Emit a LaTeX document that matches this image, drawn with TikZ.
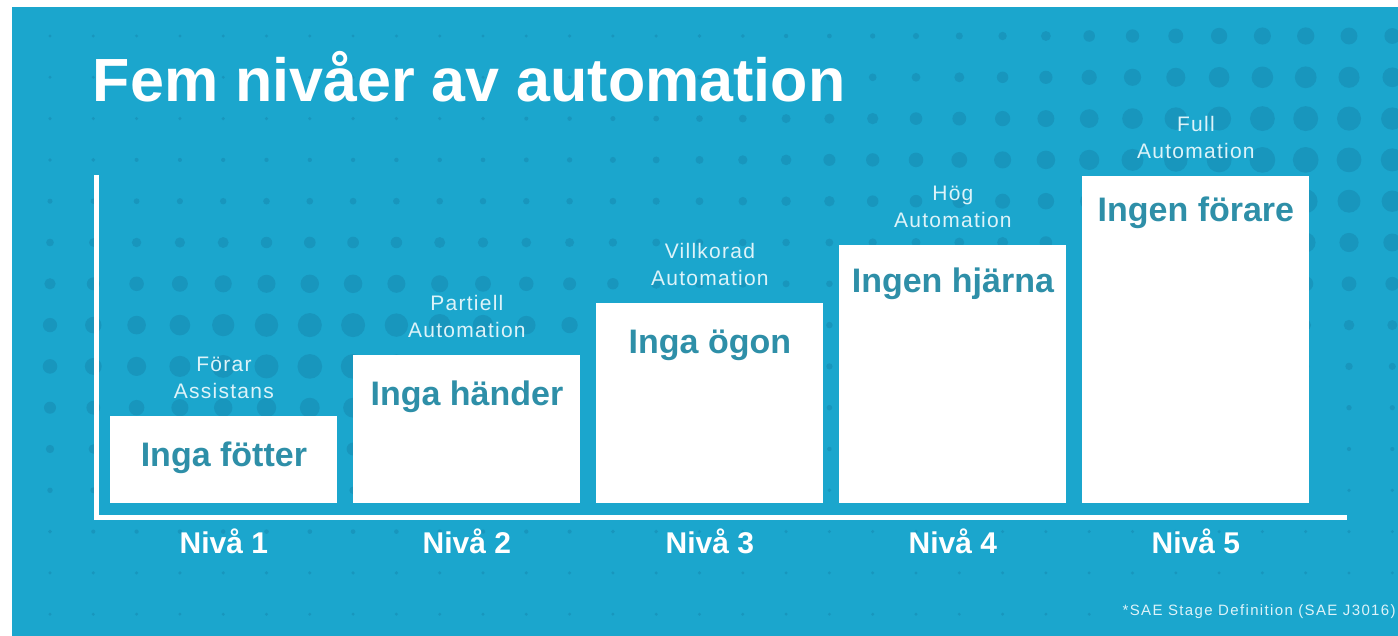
\documentclass[tikz,border=0pt]{standalone}
\usepackage{fontspec}
\setmainfont{Liberation Sans}
\usetikzlibrary{positioning,calc}
\definecolor{bgblue}{HTML}{1BA6CD}
\definecolor{dotblue}{HTML}{1896BD}
\definecolor{barteal}{HTML}{2E8FA8}
\definecolor{softwhite}{HTML}{DDF3F9}
\tikzset{%
  every bar/.style={
    fill=white,
    draw=none,
    inner sep=0pt,
    minimum width=113.5pt,
    anchor=south west
  },
  bar label/.style={
    anchor=base,
    text=barteal,
    font=\bfseries\fontsize{17}{20}\selectfont
  },
  stage label/.style={
    anchor=south,
    inner sep=0pt,
    align=center,
    text=softwhite,
    font=\fontsize{10.5}{13.5}\selectfont\addfontfeature{LetterSpace=6}
  },
  level label/.style={
    anchor=base,
    text=white,
    font=\bfseries\fontsize{15}{18}\selectfont
  },
  axis line/.style={
    draw=white,
    line width=2.5pt
  },
}

\begin{document}
\begin{tikzpicture}[x=0.5pt, y=-0.5pt]
        \useasboundingbox (0,0) rectangle (1398,636);
        \fill[white] (0,0) rectangle (1398,636);
        \fill[bgblue] (12,7) rectangle (1398,636);

        % halftone dots
        \begin{scope}
          \clip (12,7) rectangle (1398,636);
          \foreach \c in {0,...,31}
            \foreach \r in {0,...,14}{
              \pgfmathsetmacro\dx{50+43.3*\c}
              \pgfmathsetmacro\dy{36+41.3*\r}
              \pgfmathsetmacro\qa{min(((\dx-330)/350)^2+((\dy-350)/110)^2,9)}
              \pgfmathsetmacro\qb{min(((\dx-1300)/280)^2+((\dy-150)/170)^2,9)}
              \pgfmathsetmacro\qc{min(((\dx-900)/250)^2+((\dy-160)/80)^2,9)}
              \pgfmathsetmacro\rad{0.5*(1.6+11*exp(-\qa)+11*exp(-\qb)+4*exp(-\qc))}
              \fill[dotblue] (\dx,\dy) circle[radius=\rad pt];
            }
        \end{scope}

        \node[anchor=base west, inner sep=0pt, text=white,
              font=\bfseries\fontsize{30.5}{36}\selectfont] (title) at (92.5,102) {Fem nivåer av automation};

        \coordinate (axis-top) at (96,175);
        \coordinate (origin) at (96,517);
        \coordinate (axis-end) at (1347,517);
        \draw[axis line] (axis-top) -- (origin) -- (axis-end);

        \foreach \top/\base/\txt/\cat [count=\i,
                 evaluate=\i as \bx using 110+243*(\i-1)] in
          {416/467/Inga fötter/Förar\\Assistans,
           355/406/Inga händer/Partiell\\Automation,
           303/354/Inga ögon/Villkorad\\Automation,
           245/293/Ingen hjärna/Hög\\Automation,
           176/222/Ingen förare/Full\\Automation}{
          \node[every bar, minimum height={(503-\top)*0.5pt}] (bar-\i) at (\bx,503) {};
          \node[bar label] (task-\i) at ($(bar-\i.north)+(0,\base-\top)$) {\txt};
          \node[stage label] (stage-\i) at ($(bar-\i.north)+(0,-16)$) {\cat};
          \node[level label] (level-\i) at ($(bar-\i.south)+(0,50)$) {Nivå \i};
        }

        \node[anchor=base east, inner sep=0pt, text=softwhite,
              font=\fontsize{7.5}{9}\selectfont\addfontfeature{LetterSpace=9}] (source) at (1396,615) {*SAE Stage Definition (SAE J3016)};
\end{tikzpicture}
\end{document}
